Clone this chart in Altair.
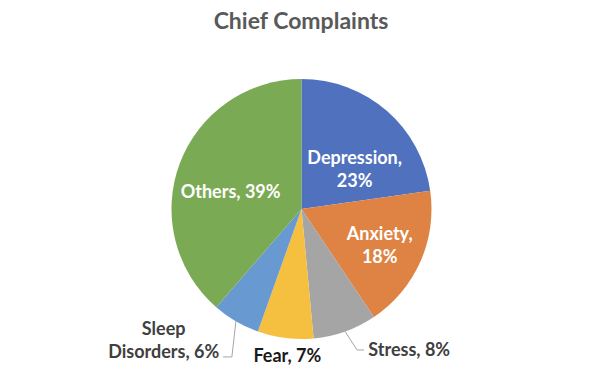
import math
import altair as alt
import pandas as pd

# ---- data ----
categories = ["Depression", "Anxiety", "Stress", "Fear", "Sleep Disorders", "Others"]
values = [23, 18, 8, 7, 6, 39]
labels = ["Depression,\n23%", "Anxiety,\n18%", "Stress, 8%", "Fear, 7%", "Sleep\nDisorders, 6%", "Others, 39%"]
title_text = "Chief Complaints"

# ---- style ----
colors = ["#4F71BE", "#DE8344", "#A5A5A5", "#F5C040", "#6899D1", "#7BAA54"]
label_colors = ["#FFFFFF", "#FFFFFF", "#404040", "#1A1A1A", "#404040", "#FFFFFF"]
CX, CY, R = 293.5, 201.0, 130.0
FS, LH = 18, 23
label_r = [67, 86, 176.5, 147, 190, 73]
label_shift = [11.5, 0.5, -18.0, -1.6, 16.2, -6.6]
# leader lines: (category index, elbow angle deg, elbow radius, horizontal run)
leaders = [(2, 158.5, 151.5, 7), (4, 205.2, 163.5, -9)]

total = sum(values)
cum = 0
mids = []
for v in values:
    mids.append((cum + v / 2) / total * 360.0)
    cum += v


def polar(angle_deg, r):
    a = math.radians(angle_deg)
    return CX + r * math.sin(a), CY - r * math.cos(a)


df = pd.DataFrame({"category": categories, "value": values, "idx": list(range(len(values)))})

lab_rows = []
for i, c in enumerate(categories):
    x, y = polar(mids[i] + label_shift[i], label_r[i])
    nlines = labels[i].count("\n") + 1
    y = y - (nlines - 1) * LH / 2 + 2
    lab_rows.append({"category": c, "label": labels[i], "lx": x, "ly": y, "lc": label_colors[i]})
lab_df = pd.DataFrame(lab_rows)

lead_rows = []
for (i, ang, rr, run) in leaders:
    x0, y0 = polar(mids[i], R)
    x1, y1 = polar(ang, rr)
    lead_rows += [
        {"category": categories[i], "o": 0, "px": x0, "py": y0},
        {"category": categories[i], "o": 1, "px": x1, "py": y1},
        {"category": categories[i], "o": 2, "px": x1 + run, "py": y1},
    ]
lead_df = pd.DataFrame(lead_rows)

pie = alt.Chart(df).mark_arc(outerRadius=R, stroke=None).encode(
    theta=alt.Theta("value:Q", stack=True),
    color=alt.Color("category:N", scale=alt.Scale(domain=categories, range=colors), legend=None),
    order=alt.Order("idx:Q"),
    x=alt.value(CX),
    y=alt.value(CY),
)

lead = alt.Chart(lead_df).mark_line(color="#A6A6A6", strokeWidth=1).encode(
    x=alt.X("px:Q", scale=None, axis=None),
    y=alt.Y("py:Q", scale=None, axis=None),
    detail="category:N",
    order="o:Q",
)

text = alt.Chart(lab_df).mark_text(
    font="Lato", fontWeight="bold", fontSize=FS, lineBreak="\n",
    align="center", baseline="middle", lineHeight=LH,
).encode(
    x=alt.X("lx:Q", scale=None, axis=None),
    y=alt.Y("ly:Q", scale=None, axis=None),
    text="label:N",
    color=alt.Color("lc:N", scale=None),
)

title = alt.Chart(pd.DataFrame({"t": [title_text]})).mark_text(
    font="Lato", fontWeight="bold", fontSize=23, color="#595959",
    align="center", baseline="middle",
).encode(x=alt.value(293), y=alt.value(14), text="t:N")

chart = alt.layer(pie, lead, text, title).properties(
    width=584, height=362, autosize=alt.AutoSizeParams(type="none"), padding=0,
).configure_view(stroke=None)

chart.save("out.html", embed_options={"renderer": "svg", "actions": False})
